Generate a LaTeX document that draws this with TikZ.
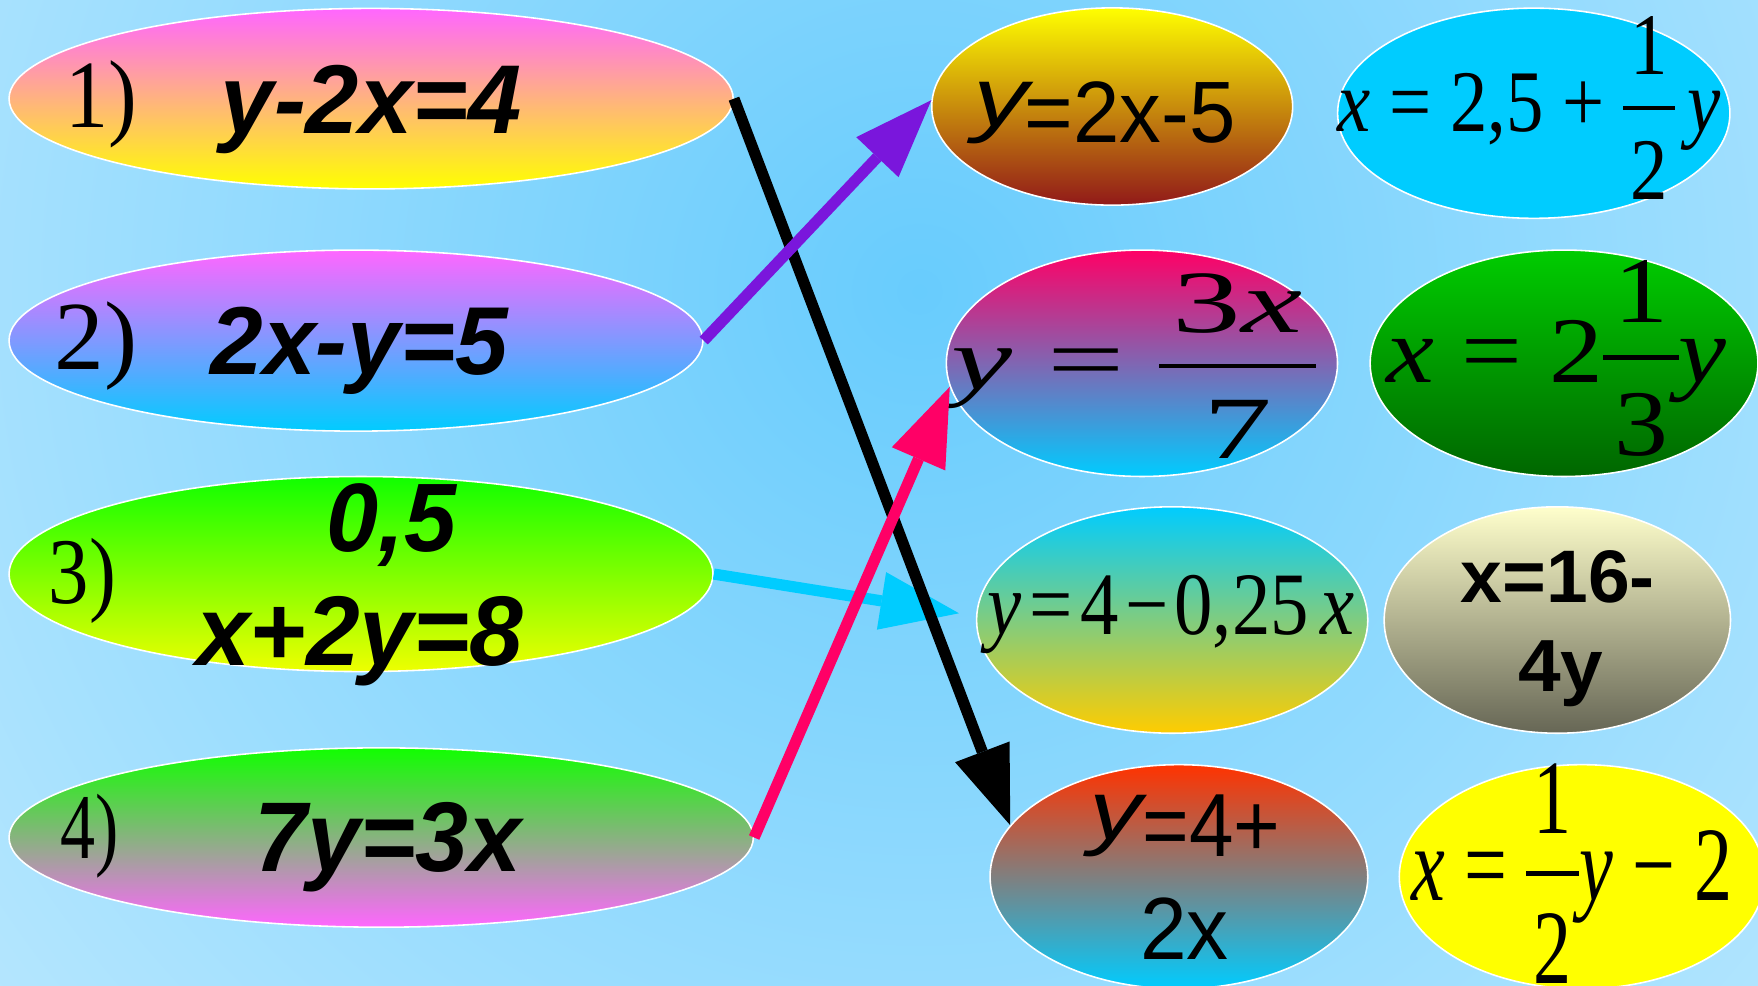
\documentclass[tikz,border=0pt]{standalone}
\usepackage{fontspec}
\usepackage{graphicx}
\setmainfont{Liberation Serif}
\newfontfamily\arialf{Liberation Sans}
\usetikzlibrary{shapes.geometric,arrows.meta,calc}
\newlength\ulen
\setlength\ulen{0.02cm}
\newlength\fracw
\newsavebox\numbox
\newsavebox\denbox
\newcommand\fitto[3]{\resizebox*{#1\ulen}{#2\ulen}{#3}}
% hand-built fraction: numerator baseline +0.64em, bar at +0.26em, denominator baseline -0.78em
\newcommand\fr[2]{%
  \sbox\numbox{#1}\sbox\denbox{#2}%
  \setlength\fracw{\wd\numbox}%
  \ifdim\wd\denbox>\fracw \setlength\fracw{\wd\denbox}\fi
  \addtolength\fracw{0.2em}%
  \makebox[\fracw]{%
    \rlap{\makebox[\fracw]{\raisebox{0.64em}{\usebox\numbox}}}%
    \rlap{\makebox[\fracw]{\raisebox{-0.78em}{\usebox\denbox}}}%
    \rule[0.235em]{\fracw}{0.05em}}}
\definecolor{bgin}{RGB}{104,204,253}
\definecolor{bgout}{RGB}{240,250,255}
\definecolor{magc}{RGB}{255,102,255}
\definecolor{cyanc}{RGB}{0,204,255}
\definecolor{greenc}{RGB}{17,255,0}
\definecolor{lemonc}{RGB}{238,255,0}
\definecolor{yelc}{RGB}{255,255,0}
\definecolor{darkredc}{RGB}{145,25,25}
\definecolor{pinkc}{RGB}{255,0,102}
\definecolor{orangec}{RGB}{255,204,0}
\definecolor{redc}{RGB}{255,51,0}
\definecolor{grc}{RGB}{0,204,0}
\definecolor{dgrc}{RGB}{0,102,0}
\definecolor{creamc}{RGB}{255,255,204}
\definecolor{greyc}{RGB}{102,102,85}
\definecolor{purplec}{RGB}{122,22,220}
\begin{document}
\begin{tikzpicture}[x=0.02cm,y=-0.02cm,
  oval/.style={ellipse, draw=white, line width=0.8pt, inner sep=0pt},
  txt/.style={inner sep=0pt, font=\fontsize{30}{36}\selectfont},
  link/.style={line width=0.2cm, -{Triangle[length=1.4cm,width=1.04cm,line width=0pt]}}
]
\useasboundingbox (0,0) rectangle (1568,879);
\begin{scope}
  \clip (0,0) rectangle (1568,879);
  \shade[inner color=bgin, outer color=bgout] (820,260) circle (1850);
\end{scope}

% left ovals
\node[oval, minimum width=12.92cm, minimum height=3.22cm, top color=magc, bottom color=yelc] (e1) at (331,88) {};
\node[oval, minimum width=12.38cm, minimum height=3.23cm, top color=magc, bottom color=cyanc] (e2) at (317.5,303.8) {};
\node[oval, minimum width=12.56cm, minimum height=3.48cm, top color=greenc, bottom color=lemonc] (e3) at (322,512) {};
\node[oval, minimum width=13.28cm, minimum height=3.20cm, top color=greenc, bottom color=magc] (e4) at (340,747) {};

% right ovals
\node[oval, minimum width=6.44cm, minimum height=3.52cm, top color=yelc, bottom color=darkredc] (a1) at (992,95) {};
\node[oval, minimum width=6.98cm, minimum height=4.04cm, top color=pinkc, bottom color=cyanc] (a2) at (1018.5,324) {};
\node[oval, minimum width=6.98cm, minimum height=4.04cm, top color=cyanc, bottom color=orangec] (a3) at (1045.5,553) {};
\node[oval, minimum width=6.74cm, minimum height=4.00cm, top color=redc, bottom color=cyanc] (a4) at (1051.5,782) {};
\node[oval, minimum width=7.00cm, minimum height=3.75cm, fill=cyanc] (b1) at (1368,101) {};
\node[oval, minimum width=6.92cm, minimum height=4.04cm, top color=grc, bottom color=dgrc] (b2) at (1395,324) {};
\node[oval, minimum width=6.18cm, minimum height=4.04cm, top color=creamc, bottom color=greyc] (b3) at (1389,553) {};
\node[oval, minimum width=6.52cm, minimum height=4.00cm, fill=yelc] (b4) at (1411,782) {};

% labels
\node[txt] (n1) at (90,93) {\fitto{64}{78}{1)}};
\node[txt] (n2) at (85.5,308.5) {\fitto{74}{79}{2)}};
\node[txt] (n3) at (73.5,518) {\fitto{60}{76}{3)}};
\node[txt] (n4) at (80,745.5) {\fitto{52}{75}{4)}};

% left equations
\node[txt] (t1) at (331,97.5) {\fitto{268}{79}{\arialf\bfseries\itshape y-2x=4}};
\node[txt] (t2) at (320.5,313) {\fitto{265}{78}{\arialf\bfseries\itshape 2x-y=5}};
\node[txt] (t3a) at (349,468) {\fitto{116}{74}{\arialf\bfseries\itshape 0,5}};
\node[txt] (t3b) at (321,572) {\fitto{292}{80}{\arialf\bfseries\itshape x+2y=8}};
\node[txt] (t4) at (346,756) {\fitto{238}{80}{\arialf\bfseries\itshape 7y=3x}};

% right equations
\node[txt] (ta1y) at (892.5,100.5) {\fitto{49}{55}{\arialf\itshape y}};
\node[txt] (ta1) at (1008,100.5) {\fitto{188}{55}{\arialf =2x-5}};
\node[txt] (ta2) at (1011.5,326.5) {\fitto{325}{165}{\textit{y} = \fr{3\textit{x}}{7}}};
\node[txt] (ta3) at (1044.5,548) {\fitto{327}{70}{\textit{y}\hspace{0.1em}=\hspace{0.1em}4\hspace{0.08em}−\hspace{0.08em}0,25\hspace{0.15em}\textit{x}}};
\node[txt] (ta4y) at (995,736.5) {\fitto{47}{55}{\arialf\itshape y}};
\node[txt] (ta4a) at (1080.5,736.5) {\fitto{123}{55}{\arialf =4+}};
\node[txt] (ta4b) at (1056.5,828.5) {\fitto{79}{55}{\arialf 2x}};
\node[txt] (tb1) at (1364,96.5) {\fitto{342}{163}{\textit{x} = 2,5 + \fr{1}{2}\,\textit{y}}};
\node[txt] (tb2) at (1388.5,319.5) {\fitto{303}{175}{\textit{x} = 2\fr{1}{3}\textit{y}}};
\node[txt] (tb3a) at (1389.5,514.5) {\fitto{173}{47}{\arialf\bfseries x=16-}};
\node[txt] (tb3b) at (1392,600.5) {\fitto{76}{59}{\arialf\bfseries 4y}};
\node[txt] (tb4) at (1402,779) {\fitto{286}{196}{\textit{x} = \fr{1}{2}\textit{y} − 2}};

% connectors
\draw[link, cyanc] (e3.east) -- ([shift={(-15,-6)}]a3.west);
\draw[link, black] (e1.east) -- (a4.163);
\draw[link, purplec] (e2.east) -- (a1.178);
\draw[link, pinkc] (e4.east) -- (a2.187);
\end{tikzpicture}
\end{document}
